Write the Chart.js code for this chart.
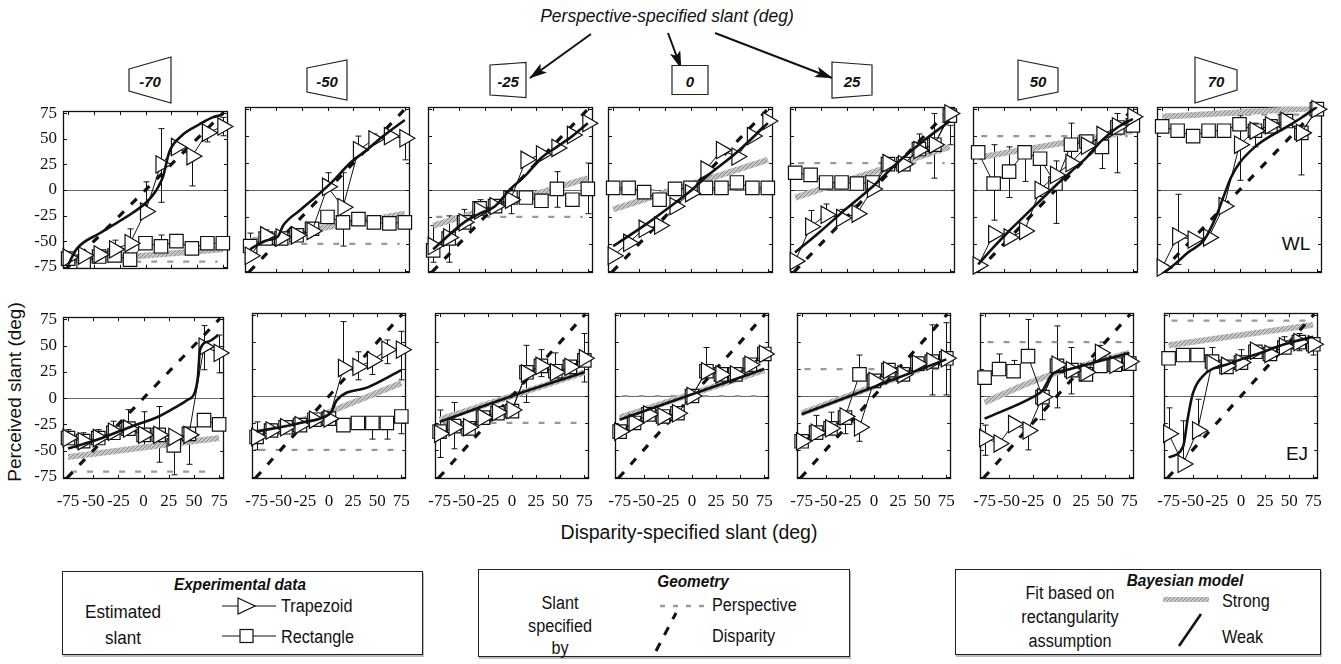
<!DOCTYPE html>
<html><head><meta charset="utf-8">
<script src="https://cdn.jsdelivr.net/npm/chart.js@4.4.1/dist/chart.umd.min.js"></script>
<style>
html,body{margin:0;padding:0;background:#fff;}
#page{position:relative;width:1341px;height:664px;overflow:hidden;font-family:"Liberation Sans",Arial,sans-serif;color:#111;}
.cv{position:absolute;}
.t{position:absolute;white-space:nowrap;line-height:1;}
.c{transform:translate(-50%,-50%) scaleX(.9);}
.cn{transform:translate(-50%,-50%);}
.l{transform-origin:0 50%;transform:translate(0,-50%) scaleX(.9);}
.bi{font-weight:bold;font-style:italic;}
.box{position:absolute;border:1.3px solid #222;box-shadow:1px 2px 0 #bbb;}
</style></head>
<body><div id="page">
<svg width="1341" height="664" style="position:absolute;left:0;top:0">
 <defs>
  <pattern id="hatch" width="4" height="4" patternUnits="userSpaceOnUse">
   <rect width="4" height="4" fill="#c8c8c8"/>
   <path d="M0,4 L4,0" stroke="#8e8e8e" stroke-width="1"/>
  </pattern>
  <marker id="ah" markerWidth="18" markerHeight="11" refX="17" refY="5.5" orient="auto" markerUnits="userSpaceOnUse">
   <path d="M0,0 L18,5.5 L0,11 L4,5.5 Z" fill="#111"/>
  </marker>
 </defs>
 <g stroke="#111" stroke-width="2" fill="none">
  <line x1="591" y1="34" x2="530" y2="78" marker-end="url(#ah)"/>
  <line x1="668" y1="33" x2="681" y2="68" marker-end="url(#ah)"/>
  <line x1="715" y1="33" x2="832" y2="78" marker-end="url(#ah)"/>
 </g>
 <g id="icons" stroke="#222" stroke-width="1.2" fill="#fff"></g>
 <g stroke="#111" stroke-width="1.2" fill="#fff">
  <line x1="222" y1="606" x2="276" y2="606"/>
  <polygon points="238,598 255,606 238,614"/>
  <line x1="222" y1="636" x2="276" y2="636"/>
  <rect x="240" y="629.5" width="13" height="13"/>
 </g>
 <line x1="660" y1="606" x2="706" y2="606" stroke="#999" stroke-width="2.5" stroke-dasharray="5 8"/>
 <line x1="656" y1="651" x2="676" y2="613" stroke="#111" stroke-width="3" stroke-dasharray="9 9"/>
 <rect x="1163" y="597" width="46" height="5" fill="url(#hatch)"/>
 <line x1="1179" y1="646" x2="1201" y2="614" stroke="#111" stroke-width="2.6"/>
</svg>

<div class="t" style="left:667px;top:15px;font-size:19px;font-style:italic;transform:translate(-50%,-50%) scaleX(.92);">Perspective-specified slant (deg)</div>
<div class="t" style="left:14px;top:392px;font-size:19px;transform:translate(-50%,-50%) rotate(-90deg);">Perceived slant (deg)</div>
<div class="t cn" style="left:689px;top:533px;font-size:19.5px;">Disparity-specified slant (deg)</div>
<div class="t cn" style="left:1296px;top:243px;font-size:19px;">WL</div>
<div class="t cn" style="left:1297px;top:453px;font-size:19px;">EJ</div>

<div class="box" style="left:62px;top:571px;width:359px;height:82px;"></div>
<div class="t c bi" style="left:240px;top:584px;font-size:17px;">Experimental data</div>
<div class="t c" style="left:123px;top:611px;font-size:19px;">Estimated</div>
<div class="t c" style="left:123px;top:637px;font-size:19px;">slant</div>
<div class="t l" style="left:281px;top:606px;font-size:18px;">Trapezoid</div>
<div class="t l" style="left:281px;top:637px;font-size:18px;">Rectangle</div>

<div class="box" style="left:478px;top:569px;width:370px;height:86px;"></div>
<div class="t c bi" style="left:693px;top:581px;font-size:17px;">Geometry</div>
<div class="t c" style="left:560px;top:603px;font-size:18px;">Slant</div>
<div class="t c" style="left:560px;top:626px;font-size:18px;">specified</div>
<div class="t c" style="left:560px;top:648px;font-size:18px;">by</div>
<div class="t l" style="left:712px;top:605px;font-size:18px;">Perspective</div>
<div class="t l" style="left:712px;top:636px;font-size:18px;">Disparity</div>

<div class="box" style="left:955px;top:569px;width:364px;height:84px;"></div>
<div class="t c bi" style="left:1185px;top:580px;font-size:17px;">Bayesian model</div>
<div class="t c" style="left:1070px;top:593px;font-size:18px;">Fit based on</div>
<div class="t c" style="left:1070px;top:617px;font-size:18px;">rectangularity</div>
<div class="t c" style="left:1070px;top:641px;font-size:18px;">assumption</div>
<div class="t l" style="left:1222px;top:601px;font-size:18px;">Strong</div>
<div class="t l" style="left:1222px;top:637px;font-size:18px;">Weak</div>
</div>

<script>
// ---------------- data ----------------
const disparitySlant = [-75,-60,-45,-30,-15,0,15,30,45,60,75];
const perspectiveSlant = [-70,-50,-25,0,25,50,70];
const perspectiveLabels = ['-70','-50','-25','0','25','50','70'];
const xTickValues = [-75,-50,-25,0,25,50,75];
const yTickValues = [-75,-50,-25,0,25,50,75];
const subjects = ['WL','EJ'];

// Subject WL (top row): one array per perspective slant
const trapezoidWL = [
  [-66,-64,-63,-58,-52,-21,25,42,33,56,62],
  [-61,-42,-44,-42,-38,3,-16,37,47,50,48],
  [-52,-44,-30,-19,-15,-9,28,33,39,51,62],
  [-61,-49,-36,-33,-15,-3,19,37,31,50,64],
  [-66,-34,-23,-26,-22,1,25,24,37,42,71],
  [-70,-41,-44,-38,0,14,25,41,51,59,68],
  [-72,-43,-46,-44,-15,42,55,60,64,53,75]
];
const rectangleWL = [
  [-67,-70,-65,-64,-68,-52,-55,-50,-57,-52,-52],
  [-52,-45,-45,-42,-36,-25,-30,-27,-30,-31,-30],
  [-56,-45,-30,-17,-15,-7,-7,-10,1,-9,1],
  [2,2,-2,-9,1,2,2,2,7,2,2],
  [16,14,7,7,6,7,24,24,38,42,69],
  [35,6,17,35,29,6,42,45,40,58,60],
  [59,55,50,55,55,61,55,59,64,53,75]
];
const weakFitWL = [
  [[-75,-73],[-67,-58],[-44,-42],[-12,-22],[1,-12],[10,-1],[17,13],[23,37],[35,53],[52,64],[65,71],[73,73]],
  [[-75,-55],[-60,-47],[-48,-43],[-43,-33],[-27,-19],[-11,-6],[5,8],[22,25],[38,37],[54,50],[75,65]],
  [[-75,-55],[-45,-30],[-30,-22],[-15,-15],[0,1],[15,14],[30,30],[45,40],[60,50],[75,62]],
  [[-75,-52],[-45,-33],[-15,-12],[0,-1],[15,12],[45,35],[75,62]],
  [[-75,-58],[-50,-38],[-25,-17],[0,3],[25,26],[50,46],[75,64]],
  [[-75,-69],[-60,-53],[-45,-38],[-30,-24],[-15,-10],[0,4],[15,17],[30,30],[45,46],[60,58],[75,66]],
  [[-75,-78],[-63,-69],[-50,-58],[-34,-46],[-22,-23],[-15,-5],[-8,12],[0,25],[15,40],[30,50],[45,58],[60,67],[75,77]]
];
const strongFitWL = [
  [[-75,-70],[75,-58]],
  [[-75,-47],[75,-22]],
  [[-75,-33],[75,11]],
  [[-75,-18],[75,28]],
  [[-75,-7],[75,40]],
  [[-75,30],[75,55]],
  [[-75,68],[75,76]]
];
const errorBarsWL = [
  [[-30,-58,-49],[-15,-52,-38],[0,-21,8],[15,-12,60],[15,-55,-44],[45,4,33],[60,47,56],[75,62,71],[75,53,62]],
  [[-75,-55,-40],[-60,-44,-37],[0,3,16],[15,-16,16],[15,-52,-30],[30,37,50],[45,47,52],[75,28,48]],
  [[-75,-67,-33],[-60,-67,-24],[-45,-30,-18],[-30,-16,-9],[0,-22,-9],[45,-16,17],[75,-22,25]],
  [[-30,-9,-3],[-15,-15,-10]],
  [[-60,-34,-19],[-45,-23,-13],[-30,-26,-18],[-15,-22,-14],[45,37,52],[60,11,71],[75,42,60]],
  [[-60,-28,42],[-45,-7,40],[-30,8,35],[-15,-6,29],[0,-31,27],[15,22,62],[45,20,40],[60,16,71],[75,58,68]],
  [[-60,-69,-4],[-45,-50,-46],[0,9,69],[15,40,62],[60,14,51]]
];

// Subject EJ (bottom row)
const trapezoidEJ = [
  [-38,-41,-38,-32,-29,-35,-35,-37,-35,49,43],
  [-38,-32,-29,-27,-22,-21,26,27,33,43,43],
  [-35,-29,-29,-20,-15,-13,21,28,22,27,35],
  [-33,-25,-17,-19,-16,0,23,20,20,29,39],
  [-42,-34,-30,-19,-29,14,24,20,30,32,35],
  [-39,-44,-26,-32,-1,29,24,22,40,29,32],
  [-35,-63,-32,30,28,31,42,39,46,50,48]
];
const rectangleEJ = [
  [-38,-41,-38,-33,-29,-35,-35,-45,-34,-21,-25],
  [-38,-32,-29,-27,-22,-21,-27,-25,-25,-25,-19],
  [-33,-28,-30,-20,-16,-14,22,28,23,27,33],
  [-33,-25,-17,-19,-16,0,23,20,20,29,39],
  [-42,-34,-30,-20,20,14,24,20,30,32,35],
  [17,25,23,37,-1,28,24,20,28,29,30],
  [35,38,38,32,27,31,41,39,45,50,48]
];
const weakFitEJ = [
  [[-75,-48],[-44,-39],[-12,-27],[14,-18],[33,-8],[43,-2],[51,6],[54,21],[56,46],[65,54],[74,60]],
  [[-75,-33],[-30,-25],[0,-17],[3,-14],[8,-4],[40,8],[75,24]],
  [[-75,-24],[0,0],[75,22]],
  [[-75,-22],[75,25]],
  [[-75,-17],[75,34]],
  [[-75,-21],[-25,-1],[-15,5],[-5,20],[9,24],[75,40]],
  [[-75,-57],[-60,-47],[-55,-20],[-50,2],[-39,19],[-12,30],[20,40],[45,48],[75,55]]
];
const strongFitEJ = [
  [[-75,-56],[75,-38]],
  [[-75,-35],[0,-15],[75,12]],
  [[-75,-22],[75,22]],
  [[-75,-20],[75,24]],
  [[-75,-16],[75,34]],
  [[-75,-6],[-55,2],[-35,10],[-15,17],[0,22],[75,40]],
  [[-75,47],[75,66]]
];
const errorBarsEJ = [
  [[-75,-38,-30],[-60,-41,-33],[-45,-38,-30],[-30,-32,-22],[-15,-29,-11],[0,-45,-13],[15,-61,-8],[30,-73,-39],[45,-63,-35],[60,27,69],[75,24,60]],
  [[-75,-50,-24],[-60,-32,-26],[15,26,69],[30,15,41],[45,20,33],[60,30,52],[75,15,60],[45,-40,-25],[60,-40,-25],[75,-35,-19]],
  [[-75,-57,-13],[-60,-49,-6],[15,-6,47],[30,18,43],[45,12,40],[75,13,58]],
  [[15,23,45],[30,12,22]],
  [[-60,-34,-18],[-45,-30,-15],[-30,-35,-19],[-15,20,38],[-15,-42,-29],[60,1,66],[75,1,68]],
  [[-75,-55,-27],[-60,25,39],[-45,23,33],[-30,37,71],[-30,-50,-32],[-15,-22,-1],[0,-11,65],[15,2,45],[45,28,47]],
  [[-75,-35,-11],[-60,-63,-23],[-45,-37,-3],[-30,30,45],[0,31,43],[45,46,55],[60,42,58],[75,38,50]]
];

// ---------------- drawing ----------------
const trapezoid = [trapezoidWL, trapezoidEJ];
const rectangle = [rectangleWL, rectangleEJ];
const weakFit = [weakFitWL, weakFitEJ];
const strongFit = [strongFitWL, strongFitEJ];
const errorBars = [errorBarsWL, errorBarsEJ];

const page = document.getElementById('page');
const PANEL_LEFT = [63,245,428,608,790,973,1157];
const PANEL_TOP = [107,313];
const PW = 165, PH = 166, PAD = 12;

// perspective icons at top
const iconX = [150,327,508,690,852,1038,1216];
const iconW = [42,40,36,36,40,40,42];
const iconHL = [22,24,30,29,36,40,46];
const iconHR = [46,40,35,29,30,24,20];
const icons = document.getElementById('icons');
perspectiveLabels.forEach((lab,i)=>{
  const cx = iconX[i], cy = 80, w = iconW[i];
  const x0 = cx - w/2, x1 = cx + w/2;
  const p = document.createElementNS('http://www.w3.org/2000/svg','polygon');
  p.setAttribute('points', `${x0},${cy-iconHL[i]/2} ${x1},${cy-iconHR[i]/2} ${x1},${cy+iconHR[i]/2} ${x0},${cy+iconHL[i]/2}`);
  icons.appendChild(p);
  const d = document.createElement('div');
  d.className = 't cn bi';
  d.style.cssText = `left:${cx}px;top:${cy+1}px;font-size:15px;`;
  d.textContent = lab;
  page.appendChild(d);
});

const hatchCanvas = document.createElement('canvas');
hatchCanvas.width = hatchCanvas.height = 4;
(function(){ const g = hatchCanvas.getContext('2d');
  g.fillStyle = '#c6c6c6'; g.fillRect(0,0,4,4);
  g.fillStyle = '#8a8a8a'; for (let i=0;i<4;i++) g.fillRect(i,3-i,1,1); })();

const framePlugin = {
  id: 'frame',
  beforeDatasetsDraw(chart, args, opts) {
    const {ctx, chartArea: a, scales: {x, y}} = chart;
    ctx.save();
    ctx.strokeStyle = '#111'; ctx.lineWidth = 1;
    ctx.beginPath();
    (opts.bars || []).forEach(([bx, lo, hi]) => {
      const px = Math.round(x.getPixelForValue(bx)) + 0.5;
      const p1 = y.getPixelForValue(lo), p2 = y.getPixelForValue(hi);
      ctx.moveTo(px, p1); ctx.lineTo(px, p2);
      ctx.moveTo(px-3, p1); ctx.lineTo(px+3, p1);
      ctx.moveTo(px-3, p2); ctx.lineTo(px+3, p2);
    });
    ctx.stroke();
    ctx.lineWidth = 1.3; ctx.strokeStyle = '#111';
    ctx.strokeRect(Math.round(a.left)+0.5, Math.round(a.top)+0.5, Math.round(a.right-a.left)-1, Math.round(a.bottom-a.top)-1);
    ctx.lineWidth = 1;
    ctx.beginPath();
    x.ticks.forEach(t => {
      const px = Math.round(x.getPixelForValue(t.value)) + 0.5;
      ctx.moveTo(px, a.top); ctx.lineTo(px, a.top + 4);
      ctx.moveTo(px, a.bottom); ctx.lineTo(px, a.bottom - 4);
    });
    y.ticks.forEach(t => {
      const py = Math.round(y.getPixelForValue(t.value)) + 0.5;
      ctx.moveTo(a.left, py); ctx.lineTo(a.left + 4, py);
      ctx.moveTo(a.right, py); ctx.lineTo(a.right - 4, py);
    });
    ctx.stroke();
    ctx.restore();
  }
};

function build(r, c) {
  const yw = c === 0 ? 40 : 0, xh = r === 1 ? 30 : 0;
  const cv = document.createElement('canvas');
  cv.width = PAD + yw + PW + PAD;
  cv.height = PAD + PH + xh + PAD;
  cv.className = 'cv';
  cv.style.left = (PANEL_LEFT[c] - PAD - yw) + 'px';
  cv.style.top = (PANEL_TOP[r] - PAD) + 'px';
  page.appendChild(cv);
  const p = perspectiveSlant[c];
  const pts = arr => arr.map(([x, y]) => ({x, y}));
  const series = arr => disparitySlant.map((x, i) => ({x, y: arr[i]}));
  new Chart(cv, {
    type: 'scatter',
    data: { datasets: [
      { label: 'Weak', data: pts(weakFit[r][c]), showLine: true, borderColor: '#111', borderWidth: 2.6,
        pointRadius: 0, cubicInterpolationMode: 'monotone' },
      { label: 'Trapezoid', data: series(trapezoid[r][c]), showLine: true, borderColor: '#111', borderWidth: 1,
        pointStyle: 'triangle', pointRotation: 90, pointRadius: 10, pointBackgroundColor: '#fff',
        pointBorderColor: '#111', pointBorderWidth: 1.2, clip: 14 },
      { label: 'Rectangle', data: series(rectangle[r][c]), showLine: true, borderColor: '#111', borderWidth: 1,
        pointStyle: 'rect', pointRadius: 9.5, pointBackgroundColor: '#fff',
        pointBorderColor: '#111', pointBorderWidth: 1.2, clip: 14 },
      { label: 'Disparity', data: [{x:-76,y:-76},{x:76,y:76}], showLine: true, borderColor: '#111',
        borderWidth: 3.2, borderDash: [8, 10], pointRadius: 0 },
      { label: 'Strong', data: pts(strongFit[r][c]), showLine: true,
        borderColor: ctx => ctx.chart.ctx.createPattern(hatchCanvas, 'repeat'),
        borderWidth: 6, pointRadius: 0 },
      { label: 'Perspective', data: [{x:-72,y:p},{x:70,y:p}], showLine: true, borderColor: '#999',
        borderWidth: 2.2, borderDash: [6, 10], pointRadius: 0 }
    ]},
    options: {
      responsive: false, animation: false, events: [],
      layout: { padding: PAD },
      plugins: { legend: { display: false }, tooltip: { enabled: false }, frame: { bars: errorBars[r][c] } },
      scales: {
        x: { type: 'linear', min: -80, max: 80,
          afterBuildTicks: s => { s.ticks = xTickValues.map(v => ({value: v})); },
          afterFit: s => { s.height = xh; },
          grid: { display: false, drawTicks: false }, border: { display: false },
          ticks: { display: r === 1, autoSkip: false, maxRotation: 0, padding: 12, color: '#111',
            font: { family: 'Liberation Serif', size: 17 }, callback: v => String(v) } },
        y: { type: 'linear', min: -77, max: 77,
          afterBuildTicks: s => { s.ticks = yTickValues.map(v => ({value: v})); },
          afterFit: s => { s.width = yw; },
          grid: { drawTicks: false, lineWidth: 1, color: ctx => (ctx.tick && ctx.tick.value === 0) ? '#666' : 'rgba(0,0,0,0)' },
          border: { display: false },
          ticks: { display: c === 0, padding: 6, color: '#111',
            font: { family: 'Liberation Serif', size: 17 }, callback: v => String(v) } }
      }
    },
    plugins: [framePlugin]
  });
}
for (let r = 0; r < 2; r++) for (let c = 0; c < 7; c++) build(r, c);
</script>
</body></html>
